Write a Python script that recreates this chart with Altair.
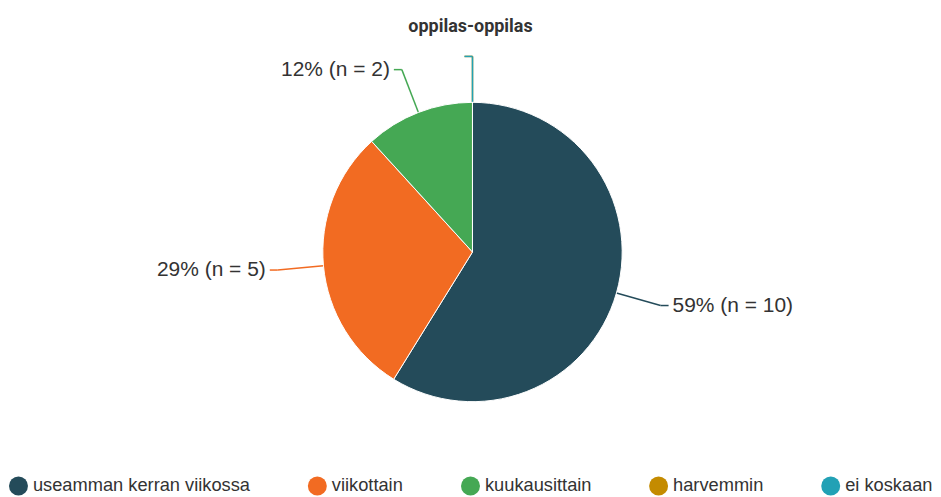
import altair as alt
import pandas as pd

# ---- data ----
categories = ["useamman kerran viikossa", "viikottain", "kuukausittain", "harvemmin", "ei koskaan"]
counts = [10, 5, 2, 0, 0]
colors = ["#244b5a", "#f26b22", "#45a854", "#c48b00", "#22a1b5"]
title_text = "oppilas-oppilas"

df = pd.DataFrame({"kategoria": categories, "n": counts, "idx": list(range(len(categories)))})

# ---- layout constants (pixels, relative to plot origin) ----
PAD_TOP = 32
W, HGT = 927, 456
CX, CY, R = 465.5, 212, 150
D, H, G = 46, 8, 4  # leader-line radial length, horizontal tail, label gap

color_scale = alt.Scale(domain=categories, range=colors)
base = alt.Chart(df)

pie = base.mark_arc(outerRadius=R, stroke="white", strokeWidth=1).encode(
    theta=alt.Theta("n:Q", stack=True),
    color=alt.Color(
        "kategoria:N",
        scale=color_scale,
        sort=categories,
        legend=alt.Legend(
            orient="none",
            legendX=1,
            legendY=437,
            direction="horizontal",
            title=None,
            symbolType="circle",
            symbolSize=361,
            symbolStrokeWidth=0,
            labelFont="Liberation Sans",
            labelFontSize=18.3,
            labelColor="#333333",
            labelOffset=5,
            labelLimit=400,
            columnPadding=57.5,
            padding=0,
        ),
    ),
    order=alt.Order("idx:Q"),
    x=alt.value(CX),
    y=alt.value(CY),
)

geo = (
    base.transform_joinaggregate(total="sum(n)")
    .transform_window(cum="sum(n)", sort=[alt.SortField("idx")], frame=[None, 0])
    .transform_calculate(a="2*PI*(datum.cum - datum.n/2)/datum.total", lk="datum.kategoria")
    .transform_calculate(
        x0=f"{CX} + {R}*sin(datum.a)",
        y0=f"{CY} - {R}*cos(datum.a)",
        x1=f"{CX} + {R + D}*sin(datum.a)",
        y1=f"{CY} - {R + D}*cos(datum.a)",
        side="sin(datum.a) >= 0 ? 1 : -1",
    )
    .transform_calculate(
        x2=f"datum.x1 + datum.side*{H}",
        xl=f"datum.x1 + datum.side*{H + G}",
        label="format(datum.n/datum.total, '.0%') + ' (n = ' + datum.n + ')'",
    )
)

stroke_enc = alt.Stroke("lk:N", scale=alt.Scale(domain=categories, range=colors), legend=None)

line1 = geo.mark_rule(strokeWidth=1.5).encode(
    x=alt.X("x0:Q", scale=None, axis=None),
    y=alt.Y("y0:Q", scale=None, axis=None),
    x2="x1:Q",
    y2="y1:Q",
    stroke=stroke_enc,
)
line2 = geo.mark_rule(strokeWidth=1.5).encode(
    x=alt.X("x1:Q", scale=None, axis=None),
    y=alt.Y("y1:Q", scale=None, axis=None),
    x2="x2:Q",
    y2="y1:Q",
    stroke=stroke_enc,
)

text_style = dict(baseline="middle", font="Liberation Sans", fontSize=21, color="#333333")
lab_right = geo.transform_filter("datum.n > 0 && datum.side > 0").mark_text(align="left", **text_style).encode(
    x=alt.X("xl:Q", scale=None, axis=None),
    y=alt.Y("y1:Q", scale=None, axis=None),
    text="label:N",
)
lab_left = geo.transform_filter("datum.n > 0 && datum.side < 0").mark_text(align="right", **text_style).encode(
    x=alt.X("xl:Q", scale=None, axis=None),
    y=alt.Y("y1:Q", scale=None, axis=None),
    text="label:N",
)

chart = (
    alt.layer(line1, line2, pie, lab_right, lab_left)
    .resolve_scale(stroke="independent", color="independent")
    .properties(
        width=W,
        height=HGT,
        padding={"top": PAD_TOP, "left": 0, "right": 0, "bottom": 0},
        autosize=alt.AutoSizeParams(type="none"),
        title=alt.TitleParams(
            title_text,
            font="Roboto",
            fontSize=18,
            fontWeight="bold",
            color="#333333",
            anchor="middle",
            frame="group",
            offset=4,
        ),
    )
    .configure_view(stroke=None)
)

chart.save("out.html", embed_options={"renderer": "svg", "actions": False})
